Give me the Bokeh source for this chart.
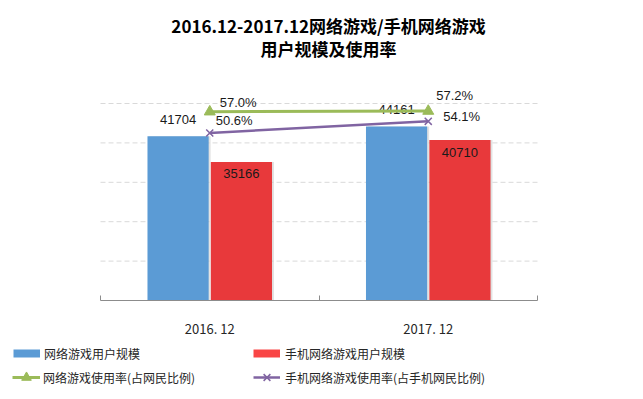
from bokeh.plotting import figure
from bokeh.layouts import column
from bokeh.models import (Range1d, Legend, LegendItem, Label, LinearAxis,
                          ColumnDataSource, FixedTicker)
from bokeh.transform import dodge
from bokeh.core.properties import value
from bokeh.embed import file_html
from bokeh.resources import INLINE

# ---------------- data ----------------
periods = ["2016. 12", "2017. 12"]
game_users = [41704, 44161]            # 网络游戏用户规模 (万)
mobile_game_users = [35166, 40710]     # 手机网络游戏用户规模 (万)
game_rate = [57.0, 57.2]               # 网络游戏使用率 (%)
mobile_game_rate = [50.6, 54.1]        # 手机网络游戏使用率 (%)
grid_ticks = [10000, 20000, 30000, 40000, 50000]
title_lines = ["2016.12-2017.12网络游戏/手机网络游戏", "用户规模及使用率"]
legend_labels = ["网络游戏用户规模", "手机网络游戏用户规模",
                 "网络游戏使用率(占网民比例)", "手机网络游戏使用率(占手机网民比例)"]

# ---------------- style / layout ----------------
BLUE = "#5B9BD5"
RED = "#E8393B"
RED_SW = "#F94545"
GREEN = "#9BBB59"
PURPLE = "#8064A2"
AXC = "#8c8c8c"
TXT = "#1a1a1a"
CJK = "Noto Sans CJK SC"
NUM = "Liberation Sans"

W = 643
FRAME_H = 300          # frame: canvas top down to the axis line
AXIS_B = 40            # space for the category labels
LEG_H = 399 - FRAME_H - AXIS_B
PX_PER_CAT = 218.5     # horizontal size of one category slot
X0 = -100 / PX_PER_CAT
X1 = len(periods) + 106 / PX_PER_CAT
Y_TOP = 76142          # left scale value at canvas top
R_TOP = 90.6           # percent scale value at canvas top

ncat = len(periods)
cat_x = [i + 0.5 for i in range(ncat)]

p = figure(width=W, height=FRAME_H + AXIS_B,
           x_range=Range1d(X0, X1), y_range=Range1d(0, Y_TOP),
           output_backend="svg", toolbar_location=None,
           x_axis_location=None, y_axis_location=None,
           min_border_left=0, min_border_right=0,
           min_border_top=0, min_border_bottom=AXIS_B)
p.extra_y_ranges = {"rate": Range1d(0, R_TOP)}
p.outline_line_color = None
p.xgrid.visible = False
p.ygrid.visible = False

xa = LinearAxis(ticker=FixedTicker(ticks=cat_x, minor_ticks=list(range(ncat + 1))),
                bounds=(0, ncat))
xa.major_label_overrides = {c: lab for c, lab in zip(cat_x, periods)}
xa.axis_line_color = AXC
xa.major_tick_line_color = None
xa.minor_tick_line_color = AXC
xa.minor_tick_in = 5
xa.minor_tick_out = 0
xa.major_label_text_font = CJK
xa.major_label_text_font_size = "13px"
xa.major_label_text_color = "#262626"
xa.major_label_standoff = 12
p.add_layout(xa, "below")

# dashed gridlines across the category slots
p.segment(x0=[0] * len(grid_ticks), x1=[ncat] * len(grid_ticks),
          y0=grid_ticks, y1=grid_ticks, line_color="#d9d9d9",
          line_dash="5 3", line_width=1)

src = ColumnDataSource(dict(
    cx=cat_x, game=game_users, mobile=mobile_game_users,
    game_rate=game_rate, mobile_rate=mobile_game_rate,
    game_lbl=[str(v) for v in game_users],
    mobile_lbl=[str(v) for v in mobile_game_users],
    game_rate_lbl=["%.1f%%" % v for v in game_rate],
    mobile_rate_lbl=["%.1f%%" % v for v in mobile_game_rate],
    # label offsets (screen px) - layout only
    gdx=[10, 8], gdy=[-9, -16],
    mdx=[6, 15], mdy=[-12, -5],
))

BW = 0.28
OFF = 0.145
SH = 0.009
# shadows
p.vbar(x=dodge("cx", -OFF + SH), top="game", width=BW, source=src,
       fill_color="#bfbfbf", fill_alpha=0.45, line_color=None)
p.vbar(x=dodge("cx", OFF + SH), top="mobile", width=BW, source=src,
       fill_color="#bfbfbf", fill_alpha=0.45, line_color=None)
# bars
p.vbar(x=dodge("cx", -OFF), top="game", width=BW, source=src,
       fill_color=BLUE, line_color=None)
p.vbar(x=dodge("cx", OFF), top="mobile", width=BW, source=src,
       fill_color=RED, line_color=None)

# bar labels
p.text(x=dodge("cx", -OFF), y="game", text="game_lbl", source=src,
       text_align="center", text_baseline="middle", y_offset=-17,
       text_font=value(NUM), text_font_size="13px", text_color=TXT)
p.text(x=dodge("cx", OFF), y="mobile", text="mobile_lbl", source=src,
       text_align="center", text_baseline="middle", y_offset=12,
       text_font=value(NUM), text_font_size="13px", text_color=TXT)

# lines
gl = p.line(x="cx", y="game_rate", source=src, y_range_name="rate",
            line_color=GREEN, line_width=3)
gs = p.scatter(x="cx", y="game_rate", source=src, y_range_name="rate",
               marker="triangle", size=11, fill_color=GREEN, line_color=GREEN)
ml = p.line(x="cx", y="mobile_rate", source=src, y_range_name="rate",
            line_color=PURPLE, line_width=2.5)
ms = p.scatter(x="cx", y="mobile_rate", source=src, y_range_name="rate",
               marker="x", size=10, line_color=PURPLE, line_width=1.5)

p.text(x="cx", y="game_rate", text="game_rate_lbl", source=src,
       y_range_name="rate", x_offset="gdx", y_offset="gdy",
       text_align="left", text_baseline="middle",
       text_font=value(NUM), text_font_size="13px", text_color=TXT)
p.text(x="cx", y="mobile_rate", text="mobile_rate_lbl", source=src,
       y_range_name="rate", x_offset="mdx", y_offset="mdy",
       text_align="left", text_baseline="middle",
       text_font=value(NUM), text_font_size="13px", text_color=TXT)

# title (screen units relative to the frame's bottom-left)
for txt, yy in zip(title_lines, [FRAME_H - 25, FRAME_H - 48]):
    p.add_layout(Label(x=328, y=yy, x_units="screen", y_units="screen",
                       text=txt, text_align="center", text_baseline="middle",
                       text_font=CJK, text_font_size="17px",
                       text_font_style="bold", text_color="#000000"))

# ---------------- legend strip ----------------
lf = figure(width=W, height=LEG_H, x_range=Range1d(0, 1), y_range=Range1d(0, 1),
            output_backend="svg", toolbar_location=None,
            x_axis_location=None, y_axis_location=None,
            min_border=0, min_border_left=0, min_border_right=0,
            min_border_top=0, min_border_bottom=0)
lf.outline_line_color = None
lf.xgrid.visible = False
lf.ygrid.visible = False

off = dict(x=[-10], y=[-10])   # swatch renderers sit outside the view
bsw = lf.line(**off, line_color=BLUE, line_width=8)
rsw = lf.line(**off, line_color=RED_SW, line_width=8)
gsw_l = lf.line(**off, line_color=GREEN, line_width=3)
gsw_m = lf.scatter(**off, marker="triangle", fill_color=GREEN, line_color=GREEN)
psw_l = lf.line(**off, line_color=PURPLE, line_width=2.5)
psw_m = lf.scatter(**off, marker="x", line_color=PURPLE, line_width=1.5)


def add_leg(label, rends, loc, gw, standoff):
    lg = Legend(items=[LegendItem(label=label, renderers=rends)],
                location=loc, glyph_width=gw, glyph_height=24,
                label_height=24, label_standoff=standoff, padding=0,
                margin=0, spacing=0, border_line_color=None,
                background_fill_alpha=0, label_text_font=CJK,
                label_text_font_size="12px", label_text_color="#262626")
    lf.add_layout(lg, "center")


add_leg(legend_labels[0], [bsw], (13, LEG_H - 25), 27, 4)
add_leg(legend_labels[1], [rsw], (253, LEG_H - 25), 27, 5)
add_leg(legend_labels[2], [gsw_l, gsw_m], (12, LEG_H - 49), 28, 3)
add_leg(legend_labels[3], [psw_l, psw_m], (253, LEG_H - 49), 27, 5)

layout = column(p, lf, spacing=0)
open("out.html", "w").write(file_html(layout, INLINE))
